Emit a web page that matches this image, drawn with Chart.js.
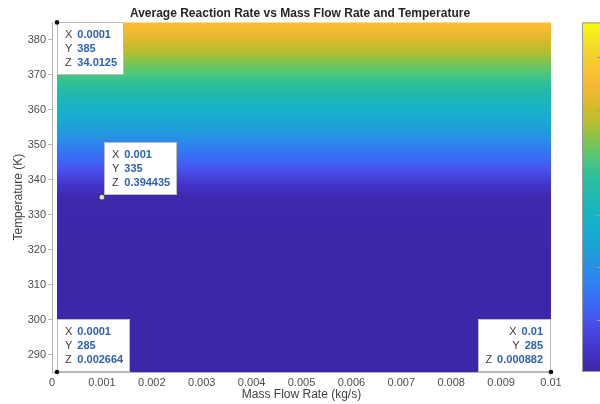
<!DOCTYPE html>
<html>
<head>
<meta charset="utf-8">
<script src="https://cdn.jsdelivr.net/npm/chart.js@4"></script>
<style>
  html, body { margin: 0; padding: 0; background: #fff; }
  #wrap { width: 600px; height: 404px; }
</style>
</head>
<body>
<div id="wrap"><canvas id="chart" width="600" height="404"></canvas></div>
<script>
// Temperature rows (K) and the reaction rate
const temps = [285, 290, 295, 300, 305, 310, 315, 320, 325, 330, 335,
               340, 345, 350, 355, 360, 365, 370, 375, 380, 385];
const rate = [0.0027, 0.004, 0.007, 0.011, 0.018, 0.03, 0.05, 0.08, 0.13, 0.23, 0.39,
              3.8, 7.1, 10.6, 14.0, 17.3, 20.7, 24.1, 27.4, 30.8, 34.0125];
const massFlowRange = [0.0001, 0.01];

const xTicks = [0, 0.001, 0.002, 0.003, 0.004, 0.005, 0.006, 0.007, 0.008, 0.009, 0.01];
const yTicks = [290, 300, 310, 320, 330, 340, 350, 360, 370, 380];

const colorLimits = [0, 40];
const colorbarTicks = [6, 12, 18, 24, 30, 36];

// data tips
const tipX = [0.0001, 0.001, 0.0001, 0.01];
const tipY = [385, 335, 285, 285];
const tipZ = [34.0125, 0.394435, 0.002664, 0.000882];

// parula-like colormap
const cmap = [
  [0.00, '#3e26a8'], [0.08, '#4437d0'], [0.15, '#4655ee'], [0.20, '#3a6cf5'],
  [0.27, '#2c86ee'], [0.34, '#1f9ed8'], [0.41, '#17aed0'], [0.48, '#1bb5b8'],
  [0.56, '#2cbf98'], [0.61, '#4fc77a'], [0.66, '#7ec452'], [0.71, '#b4bd30'],
  [0.76, '#d7ba2a'], [0.83, '#fbb935'], [0.90, '#f5cf2c'], [0.95, '#f3e425'],
  [1.00, '#f9fb0e']
];
const hex = h => [1, 3, 5].map(i => parseInt(h.substr(i, 2), 16));
function colorAt(f) {
  f = Math.max(0, Math.min(1, f));
  for (let i = 1; i < cmap.length; i++) {
    if (f <= cmap[i][0]) {
      const a = hex(cmap[i - 1][1]), b = hex(cmap[i][1]);
      const t = (f - cmap[i - 1][0]) / (cmap[i][0] - cmap[i - 1][0]);
      const c = a.map((v, k) => Math.round(v + (b[k] - v) * t));
      return `rgb(${c[0]},${c[1]},${c[2]})`;
    }
  }
  return cmap[cmap.length - 1][1];
}
const zFrac = z => (z - colorLimits[0]) / (colorLimits[1] - colorLimits[0]);

// one horizontal band between neighbouring temperature rows
const bands = temps.slice(0, -1).map((t, i) => ({ y: (t + temps[i + 1]) / 2, x: massFlowRange.slice() }));

function bandFill(ctx) {
  const chart = ctx.chart;
  if (!chart.chartArea || ctx.type !== 'data') return '#3e26a8';
  const i = ctx.dataIndex;
  const ys = chart.scales.y;
  const y0 = ys.getPixelForValue(temps[i]);
  const y1 = ys.getPixelForValue(temps[i + 1]);
  const g = chart.ctx.createLinearGradient(0, y0, 0, y1);
  for (let s = 0; s <= 6; s++) {
    const t = s / 6;
    g.addColorStop(t, colorAt(zFrac(rate[i] + (rate[i + 1] - rate[i]) * t)));
  }
  return g;
}

const FONT = '"Liberation Sans", Arial, Helvetica, sans-serif';

const colorbarPlugin = {
  id: 'colorbar',
  afterDraw(chart) {
    const c = chart.ctx, a = chart.chartArea;
    const x0 = 582, x1 = 603;
    const g = c.createLinearGradient(0, a.bottom, 0, a.top);
    for (let s = 0; s <= 40; s++) g.addColorStop(s / 40, colorAt(s / 40));
    c.save();
    c.fillStyle = g;
    c.fillRect(x0, a.top, x1 - x0, a.bottom - a.top);
    c.strokeStyle = '#9a9a9a';
    c.lineWidth = 1;
    c.strokeRect(x0 + 0.5, a.top + 0.5, x1 - x0, a.bottom - a.top - 1);
    colorbarTicks.forEach(v => {
      const y = Math.round(a.bottom - zFrac(v) * (a.bottom - a.top)) + 0.5;
      c.beginPath();
      c.moveTo(x1 - 6, y);
      c.lineTo(x1, y);
      c.stroke();
    });
    c.restore();
  }
};

const tipAnchor = ['se', 'ne', 'ne', 'nw'];
const tipPlugin = {
  id: 'datatips',
  afterDraw(chart) {
    const c = chart.ctx;
    const xs = chart.scales.x, ys = chart.scales.y;
    const regular = '11px ' + FONT, bold = 'bold 11px ' + FONT;
    c.save();
    tipX.forEach((xv, i) => {
      const px = xs.getPixelForValue(xv), py = ys.getPixelForValue(tipY[i]);
      const rows = [['X', String(xv)], ['Y', String(tipY[i])], ['Z', String(tipZ[i])]];
      c.font = regular;
      const lw = Math.max(...rows.map(r => c.measureText(r[0]).width));
      c.font = bold;
      const vw = Math.max(...rows.map(r => c.measureText(r[1]).width));
      const w = Math.round(8 + lw + 5 + vw + 7), h = 53;
      const off = i === 1 ? 2 : 0;
      let bx, by;
      if (tipAnchor[i] === 'se') { bx = px; by = py; }
      else if (tipAnchor[i] === 'ne') { bx = px + off; by = py - h - off; }
      else { bx = px - w; by = py - h; }
      bx = Math.round(bx); by = Math.round(by);
      c.fillStyle = '#ffffff';
      c.fillRect(bx, by, w, h);
      c.strokeStyle = '#bdbdbd';
      c.lineWidth = 1;
      c.strokeRect(bx + 0.5, by + 0.5, w - 1, h - 1);
      c.textBaseline = 'middle';
      rows.forEach((r, k) => {
        const ty = by + 13 + k * 14;
        if (tipAnchor[i] === 'nw') {
          c.font = bold; c.textAlign = 'right'; c.fillStyle = '#2d62b0';
          const right = bx + w - 8;
          c.fillText(r[1], right, ty);
          const vwk = c.measureText(r[1]).width;
          c.font = regular; c.fillStyle = '#404040';
          c.fillText(r[0], right - vwk - 5, ty);
        } else {
          c.textAlign = 'left';
          c.font = regular; c.fillStyle = '#404040';
          c.fillText(r[0], bx + 8, ty);
          c.font = bold; c.fillStyle = '#2d62b0';
          c.fillText(r[1], bx + 8 + lw + 5, ty);
        }
      });
      c.beginPath();
      if (i === 1) {
        c.arc(px, py, 3, 0, Math.PI * 2);
        c.fillStyle = '#d9d9d9'; c.fill();
        c.strokeStyle = '#333'; c.lineWidth = 1; c.stroke();
      } else {
        c.arc(px, py, 2.3, 0, Math.PI * 2);
        c.fillStyle = '#111'; c.fill();
      }
    });
    c.restore();
  }
};

const ctx = document.getElementById('chart').getContext('2d');

new Chart(ctx, {
  type: 'bar',
  data: {
    datasets: [{
      label: 'Average Reaction Rate',
      data: bands,
      backgroundColor: bandFill,
      borderWidth: 0,
      barPercentage: 1.06,
      categoryPercentage: 1
    }]
  },
  options: {
    indexAxis: 'y',
    responsive: false,
    devicePixelRatio: 1,
    animation: false,
    events: [],
    layout: { padding: 0 },
    plugins: {
      legend: { display: false },
      tooltip: { enabled: false },
      title: {
        display: true,
        text: 'Average Reaction Rate vs Mass Flow Rate and Temperature',
        color: '#262626',
        font: { family: FONT, size: 12, weight: 'bold' },
        padding: { top: 6, bottom: 2 }
      }
    },
    scales: {
      x: {
        type: 'linear',
        min: 0,
        max: 0.01,
        offset: false,
        afterFit: s => { s.height = 32; },
        afterBuildTicks: s => { s.ticks = xTicks.map(v => ({ value: v })); },
        ticks: {
          color: '#4d4d4d',
          font: { family: FONT, size: 11 },
          padding: 4,
          maxRotation: 0,
          autoSkip: false,
          callback: v => String(+v.toFixed(4))
        },
        grid: { drawOnChartArea: false, drawTicks: false, offset: false },
        border: { color: '#b4b4b4', width: 1 },
        title: {
          display: true,
          text: 'Mass Flow Rate (kg/s)',
          color: '#404040',
          font: { family: FONT, size: 12 },
          padding: { top: 0, bottom: 2 }
        }
      },
      y: {
        type: 'linear',
        min: 285,
        max: 385,
        offset: false,
        afterFit: s => { s.width = 52; },
        afterBuildTicks: s => { s.ticks = yTicks.map(v => ({ value: v })); },
        ticks: {
          color: '#4d4d4d',
          font: { family: FONT, size: 11 },
          padding: 2,
          autoSkip: false
        },
        grid: { drawOnChartArea: false, tickLength: 4, color: '#b4b4b4', offset: false },
        border: { color: '#b4b4b4', width: 1 },
        title: {
          display: true,
          text: 'Temperature (K)',
          color: '#404040',
          font: { family: FONT, size: 12 },
          padding: { top: 11, bottom: 0 }
        }
      },
      // empty right-hand axis that reserves the space where the colour bar sits
      cbar: {
        type: 'linear',
        position: 'right',
        display: true,
        afterFit: s => { s.width = 49; },
        ticks: { display: false },
        grid: { display: false, drawTicks: false },
        border: { display: false }
      }
    }
  },
  plugins: [colorbarPlugin, tipPlugin]
});
</script>
</body>
</html>
